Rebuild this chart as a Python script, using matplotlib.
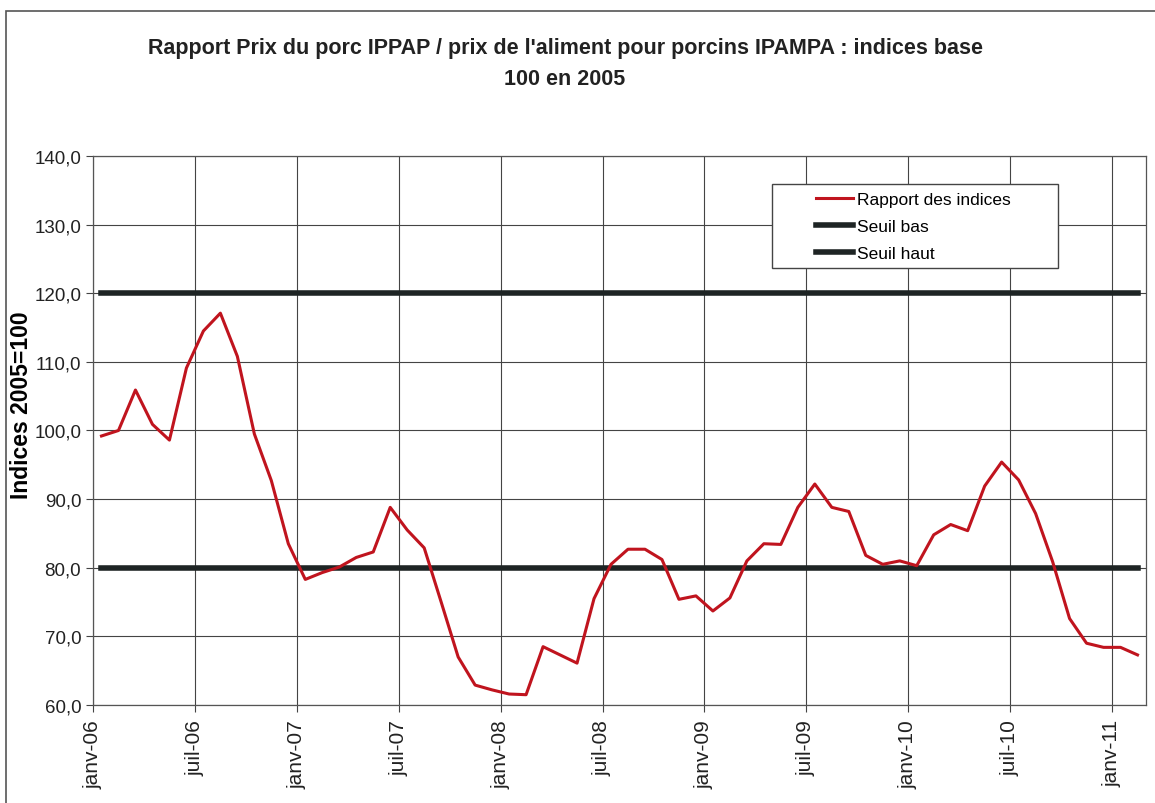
import matplotlib.pyplot as plt
from matplotlib.patches import Rectangle

plt.rcParams['font.family'] = ['Liberation Sans', 'DejaVu Sans']

# monthly values, janv-06 .. fev-11
rapport = [99.2, 100.0, 105.9, 100.9, 98.6, 109.1, 114.5, 117.1, 110.8, 99.5, 92.7, 83.5,
           78.3, 79.3, 80.1, 81.5, 82.3, 88.8, 85.5, 82.9, 75.0, 67.0, 62.9, 62.2,
           61.6, 61.5, 68.5, 67.3, 66.1, 75.5, 80.5, 82.7, 82.7, 81.2, 75.4, 75.9,
           73.7, 75.6, 81.0, 83.5, 83.4, 88.8, 92.2, 88.8, 88.2, 81.8, 80.5, 81.0,
           80.3, 84.8, 86.3, 85.4, 91.9, 95.4, 92.8, 87.9, 80.9, 72.6, 69.0, 68.4,
           68.4, 67.3]
seuil_bas = [80.0] * len(rapport)
seuil_haut = [120.0] * len(rapport)

tick_labels = ['janv-06', 'juil-06', 'janv-07', 'juil-07', 'janv-08', 'juil-08',
               'janv-09', 'juil-09', 'janv-10', 'juil-10', 'janv-11']
y_ticks = [60, 70, 80, 90, 100, 110, 120, 130, 140]

x = list(range(len(rapport)))

fig = plt.figure(figsize=(11.55, 8.04), dpi=100)
W, H = 1155, 804
ax = fig.add_axes([93 / W, 1 - 706 / H, (1146 - 93) / W, (706 - 157) / H])

# frame around the chart area
fig.patches.append(Rectangle((6 / W, -0.05), 1.1, 1 - 12 / H + 0.05, transform=fig.transFigure,
                             fill=False, edgecolor='#555555', linewidth=1.2))

ax.plot(x, rapport, color='#c0141e', linewidth=2.2, label='Rapport des indices', zorder=3)
ax.plot(x, seuil_bas, color='#1e2424', linewidth=4, label='Seuil bas', zorder=2)
ax.plot(x, seuil_haut, color='#1e2424', linewidth=4, label='Seuil haut', zorder=2)

ax.set_xlim(-0.5, len(rapport) - 0.5)
ax.set_ylim(60, 140)
ax.set_xticks([-0.5 + 6 * i for i in range(len(tick_labels))])
ax.set_xticklabels(tick_labels, rotation=90, fontsize=15)
ax.set_yticks(y_ticks)
ax.set_yticklabels(['%d,0' % v for v in y_ticks], fontsize=13.5)
ax.tick_params(direction='out', length=5, width=0.8, color='#444444', colors='#222222')
ax.tick_params(axis='x', pad=5)
ax.grid(True, color='#444444', linewidth=0.8)
ax.set_axisbelow(True)
for s in ax.spines.values():
    s.set_color('#555555')
    s.set_linewidth(0.9)

ax.set_ylabel('Indices 2005=100', fontsize=16.5, fontweight='bold')
ax.yaxis.set_label_coords(-0.057, 0.548)

fig.text(565 / W, 1 - 64 / H, "Rapport Prix du porc IPPAP / prix de l'aliment pour porcins IPAMPA : indices base\n100 en 2005",
         ha='center', va='center', fontsize=15.5, fontweight='bold', linespacing=1.6, color='#222222')

# legend box drawn separately (wider than its content in the original)
ax.add_patch(Rectangle((0.645, 0.796), 0.271, 0.153, transform=ax.transAxes, facecolor='white',
                       edgecolor='#444444', linewidth=1, zorder=5))
leg = ax.legend(loc='upper left', bbox_to_anchor=(0.681, 0.946), frameon=False,
                fontsize=12.5, handlelength=2.1, handletextpad=0.25, labelspacing=0.68,
                borderpad=0.36, borderaxespad=0)
leg.set_zorder(6)
leg.legend_handles[1].set_linewidth(4)
leg.legend_handles[2].set_linewidth(4)

fig.savefig('out.png', dpi=100)
